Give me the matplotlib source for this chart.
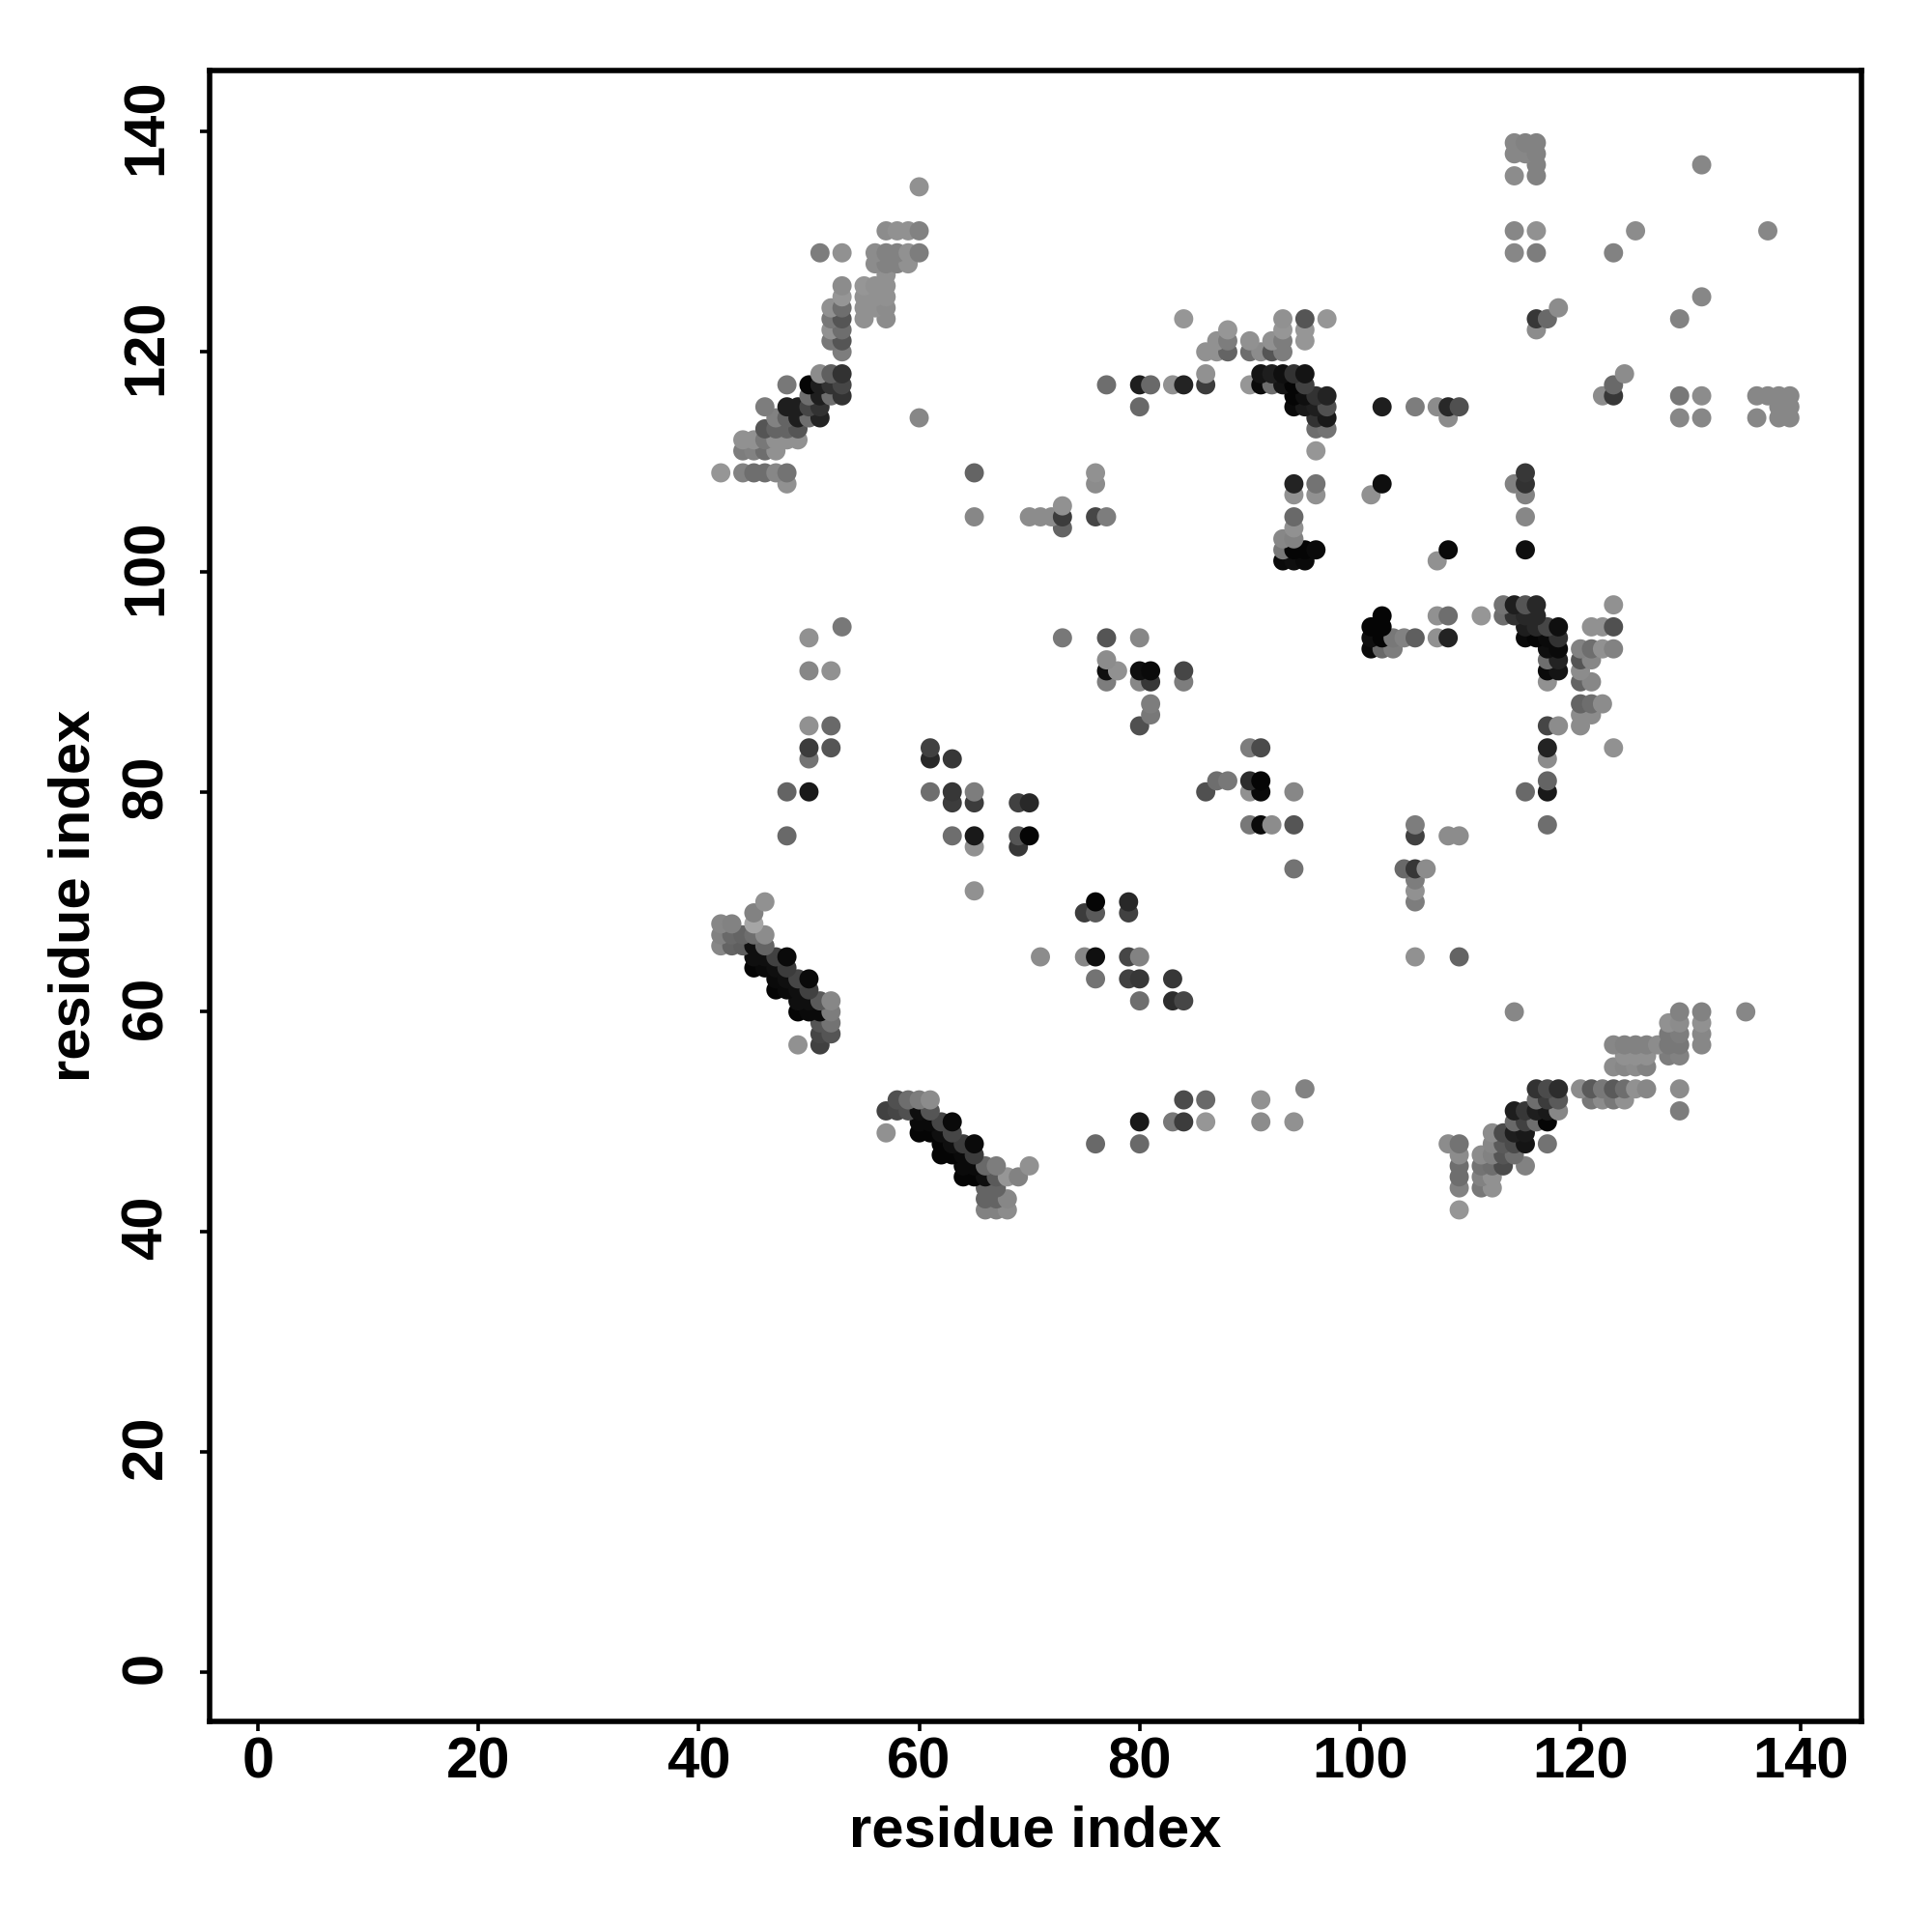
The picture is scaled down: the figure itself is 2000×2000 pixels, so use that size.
import numpy as np
import matplotlib
matplotlib.use("Agg")
import matplotlib.pyplot as plt
from matplotlib.transforms import ScaledTranslation

plt.rcParams['font.family'] = ['Liberation Sans', 'DejaVu Sans']

tick_values = [0, 20, 40, 60, 80, 100, 120, 140]
x_title = "residue index"
y_title = "residue index"

# one entry per row of the contact map: residue on y, residues on x, grey level of each contact
row_y = [139, 138, 137, 136, 135, 131, 129, 128, 127, 126, 125, 124, 123, 122, 121, 120,
         118, 117, 116, 115, 114, 113, 112, 111, 109, 108, 107, 106, 105, 104, 103, 102, 101,
         97, 96, 95, 94, 93, 92, 91, 90, 88, 87, 86, 84, 83, 81, 80, 79, 77, 76, 75, 73, 72, 71,
         70, 69, 68, 67, 66, 65, 64, 63, 62, 61, 60, 59, 58, 57, 56, 55, 53, 52, 51, 50, 49, 48,
         47, 46, 45, 44, 43, 42]
row_x = [
    [114,115,116], [114,115,116], [116,131], [114,116], [60],
    [57,58,59,60,114,116,125,137],
    [51,53,56,57,58,59,60,114,116,123],
    [56,57,58,59], [57], [53,55,56,57], [53,55,56,57,131],
    [52,53,55,56,57,118],
    [52,53,55,57,84,93,95,97,116,117,129],
    [52,53,88,93,95,116],
    [52,53,87,88,90,92,93,95],
    [53,86,87,88,90,91,92,93],
    [51,52,53,86,91,92,93,94,95,124],
    [48,50,51,52,53,77,80,81,83,84,86,90,91,92,93,94,95,123],
    [50,51,52,53,94,95,96,97,122,123,129,131,136,137,138,139],
    [46,48,49,50,51,80,94,95,96,97,102,105,107,108,109,138,139],
    [47,48,49,50,51,60,96,97,108,129,131,136,138,139],
    [46,47,48,49,96,97],
    [44,45,46,47,48,49],
    [44,45,46,47,96],
    [42,44,45,46,47,48,65,76,115],
    [48,76,94,96,102,114,115],
    [94,96,101,115],
    [73],
    [65,70,71,72,73,76,77,94,115],
    [73,94],
    [93,94],
    [93,94,95,96,108,115],
    [93,94,95,107],
    [113,114,115,116,123],
    [102,107,108,111,113,114,115,116],
    [53,101,102,115,116,117,118,121,122,123],
    [50,73,77,80,101,102,103,104,105,107,108,115,116,117,118],
    [101,102,103,117,118,120,121,122,123],
    [77,117,118,120,121],
    [50,52,77,78,80,81,84,117,118,120],
    [77,80,81,84,117,120,121],
    [81,120,121,122],
    [81,120,121],
    [50,52,80,117,118,120],
    [50,52,61,90,91,117,123],
    [50,61,63,117],
    [87,88,90,91,117],
    [48,50,61,63,65,86,90,91,94,115,117],
    [63,65,69,70],
    [90,91,92,94,105,117],
    [48,63,65,69,70,105,108,109],
    [65,69],
    [94,104,105,106],
    [105],
    [65,105],
    [46,76,79,105],
    [45,75,76,79],
    [42,43,45],
    [42,43,44,45,46],
    [42,43,44,45,46],
    [45,46,47,48,71,75,76,79,80,105,109],
    [45,46,47,48],
    [47,48,49,50,76,79,80,83],
    [47,48,49,50],
    [49,50,51,52,80,83,84],
    [49,50,51,52,114,129,131,135],
    [51,52,128,129,131],
    [51,52,128,129,131],
    [49,51,123,124,125,126,127,128,129,131],
    [124,125,126,128,129],
    [123,124,125,126],
    [95,116,117,118,120,121,122,123,124,125,126,129],
    [58,59,60,61,84,86,91,116,117,118,121,122,123,124],
    [57,58,59,60,61,114,115,116,117,118,129],
    [60,61,62,63,80,83,84,86,91,94,114,115,116,117],
    [57,60,61,62,63,112,113,114,115],
    [62,63,64,65,76,80,108,109,112,113,114,115,117],
    [62,63,64,65,109,111,112,113,114],
    [64,65,66,67,70,109,111,112,113,115],
    [64,65,66,67,68,69,109,111,112],
    [66,67,109,111,112],
    [66,67,68],
    [66,67,68,109],
]
row_shade = [
    [135,130,130], [135,135,130], [130,135], [140,130], [145],
    [140,145,145,130,135,145,140,135],
    [125,145,140,130,130,145,125,135,125,130],
    [140,130,130,145], [145], [140,150,145,145], [150,145,145,145,135],
    [145,110,145,145,140,140],
    [120,85,145,140,150,145,85,150,55,105,130],
    [145,110,150,150,150,140],
    [120,85,145,125,145,145,125,150],
    [125,145,145,100,110,140,85,125],
    [140,95,50,145,20,30,15,50,20,140],
    [120,5,30,50,70,110,30,105,145,35,60,150,10,110,20,5,65,105],
    [110,30,110,50,5,15,50,35,140,55,120,140,135,135,135,135],
    [125,30,30,70,50,105,10,25,30,80,30,125,140,40,80,135,135],
    [130,100,30,110,35,135,50,25,140,135,135,135,135,135],
    [85,100,100,85,110,115],
    [145,145,120,145,145,145],
    [125,130,110,145,150],
    [150,130,110,110,135,115,100,145,55],
    [145,140,35,115,15,130,50],
    [145,145,145,130],
    [145],
    [135,140,140,140,60,70,125,105,135],
    [100,145],
    [135,130],
    [120,5,5,10,10,15],
    [10,15,10,145],
    [115,30,85,40,145],
    [5,145,110,150,110,50,40,40],
    [120,5,5,30,40,70,15,145,145,80],
    [145,120,85,135,15,5,120,130,95,145,35,10,5,10,50],
    [10,105,125,15,10,130,110,145,130],
    [140,110,35,85,135],
    [135,145,15,145,15,10,70,10,20,140],
    [125,135,55,125,145,100,135],
    [125,100,110,140],
    [120,140,140],
    [145,105,80,70,140,140],
    [60,85,65,125,75,35,145],
    [115,40,55,140],
    [110,120,45,5,100],
    [100,25,110,55,125,80,145,10,135,105,25],
    [60,60,65,40],
    [120,10,140,85,125,110],
    [105,110,25,85,5,65,140,140],
    [145,55],
    [115,105,55,140],
    [125],
    [145,145],
    [145,5,40,125],
    [130,60,90,65],
    [135,130,165],
    [130,105,100,110,140],
    [135,100,95,15,100],
    [15,15,65,10,140,135,15,70,130,145,100],
    [5,10,15,60],
    [10,15,70,10,115,65,55,55],
    [5,10,15,65],
    [15,15,90,135,110,45,70],
    [5,10,10,125,135,130,130,135],
    [85,115,145,140,145],
    [70,85,120,125,135],
    [145,65,135,130,130,130,140,120,120,135],
    [145,145,145,125,130],
    [140,135,140,130],
    [130,50,75,45,140,90,120,90,110,145,135,140],
    [80,110,125,140,75,105,145,110,60,90,120,140,120,145],
    [65,70,80,15,85,30,55,30,25,135,125],
    [10,10,70,10,25,120,60,150,140,145,105,65,110,5],
    [145,5,5,15,70,140,75,30,25],
    [5,15,60,10,105,105,140,115,135,90,75,20,115],
    [5,5,10,60,140,140,130,85,110],
    [10,10,105,125,145,110,115,110,75,130],
    [5,5,15,90,150,130,110,130,145],
    [100,100,130,120,145],
    [100,100,135],
    [130,130,140,150],
]

if len(row_y) != len(row_x) or len(row_x) != len(row_shade):
    raise ValueError((len(row_y), len(row_x), len(row_shade)))
for y, a, b in zip(row_y, row_x, row_shade):
    if len(a) != len(b):
        raise ValueError(y)

xs = np.concatenate([np.asarray(a, float) for a in row_x])
ys = np.concatenate([np.full(len(a), y, float) for y, a in zip(row_y, row_x)])
gs = np.concatenate([np.asarray(b, float) for b in row_shade]) / 255.0
order = np.lexsort((xs, ys))
xs, ys, gs = xs[order], ys[order], gs[order]

fig = plt.figure(figsize=(20, 20), dpi=100)
ax = fig.add_axes([216.8 / 2000, 1 - 1782 / 2000, (1927 - 216.8) / 2000, (1782 - 72.7) / 2000])
ax.scatter(xs, ys, s=205, c=np.column_stack([gs, gs, gs]), linewidths=0, zorder=3)

ax.set_xlim(-4.4, 145.5)
ax.set_ylim(-4.5, 145.6)
for s in ax.spines.values():
    s.set_linewidth(4.0)
ax.set_xticks(tick_values)
ax.set_yticks(tick_values)
ax.tick_params(axis='both', length=7, width=2.6, direction='out', labelsize=43)
ax.tick_params(axis='x', pad=4.5)
ax.tick_params(axis='y', pad=20)
for t in ax.get_xticklabels():
    t.set_fontweight('bold')
lift = ScaledTranslation(0, 3.5 / 72, fig.dpi_scale_trans)
for t in ax.get_yticklabels():
    t.set_fontweight('bold')
    t.set_rotation(90)
    t.set_va('center')
    t.set_transform(t.get_transform() + lift)
ax.set_xlabel(x_title, fontsize=43, fontweight='bold', labelpad=11.5)
ax.set_ylabel(y_title, fontsize=43, fontweight='bold', labelpad=14)

fig.savefig("out.png", dpi=100, facecolor='white')
